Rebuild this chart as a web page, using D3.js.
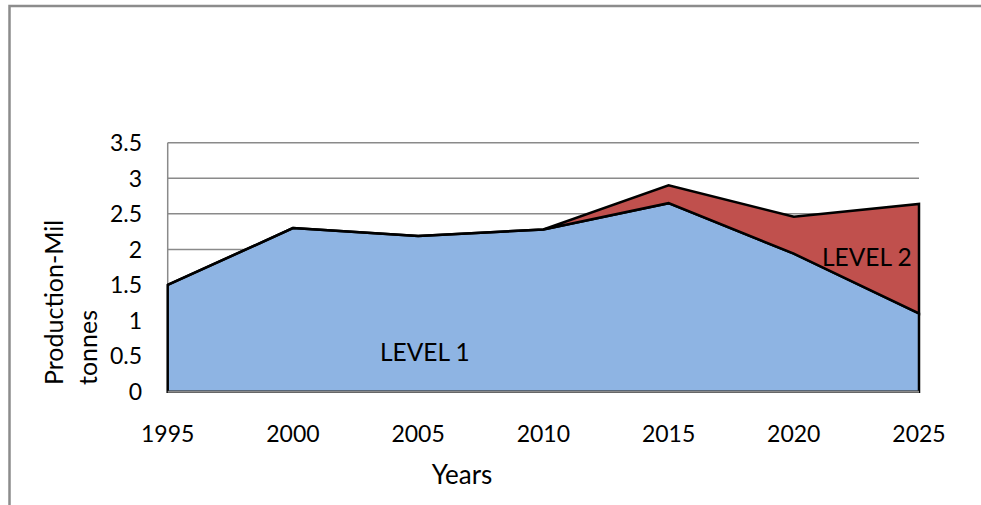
<!DOCTYPE html>
<html>
<head>
<meta charset="utf-8">
<script src="https://cdn.jsdelivr.net/npm/d3@7/dist/d3.min.js"></script>
<style>
  html, body { margin: 0; padding: 0; background: #fff; }
  svg { display: block; }
  text { font-family: Lato, "Open Sans", sans-serif; fill: #000; }
</style>
</head>
<body>
<svg id="chart" width="981" height="505"></svg>
<script>
// Production by level, million tonnes
const years = [1995, 2000, 2005, 2010, 2015, 2020, 2025];
const level1 = [1.50, 2.30, 2.19, 2.28, 2.65, 1.94, 1.10];
const level2 = [0.00, 0.00, 0.00, 0.00, 0.25, 0.52, 1.54];
const seriesNames = ["LEVEL 1", "LEVEL 2"];
const yTicks = [0, 0.5, 1, 1.5, 2, 2.5, 3, 3.5];
const yTickLabels = ["0", "0.5", "1", "1.5", "2", "2.5", "3", "3.5"];
const xTitle = "Years";
const yTitleLines = ["Production-Mil", "tonnes"];

const rows = years.map((yr, i) => ({ year: yr, "LEVEL 1": level1[i], "LEVEL 2": level2[i] }));

const svg = d3.select("#chart");
const plot = { left: 167.7, right: 919, top: 142.7, bottom: 391.7 };

const x = d3.scalePoint().domain(years).range([plot.left, plot.right]);
const y = d3.scaleLinear().domain([0, 3.5]).range([plot.bottom, plot.top]);

// outer chart frame
svg.append("path")
  .attr("d", `M9.5,505 L9.5,6 L981,6`)
  .attr("fill", "none")
  .attr("stroke", "#8c8c8c")
  .attr("stroke-width", 2.5);

// horizontal gridlines
svg.append("g")
  .selectAll("line")
  .data(yTicks.slice(1))
  .join("line")
  .attr("x1", plot.left).attr("x2", plot.right)
  .attr("y1", d => y(d)).attr("y2", d => y(d))
  .attr("stroke", "#8a8a8a")
  .attr("stroke-width", 1.5);

// value axis line
svg.append("line")
  .attr("x1", plot.left).attr("x2", plot.left)
  .attr("y1", plot.top).attr("y2", plot.bottom)
  .attr("stroke", "#8a8a8a")
  .attr("stroke-width", 1.5);

// stacked areas
const stack = d3.stack().keys(seriesNames);
const layers = stack(rows);
const colors = { "LEVEL 1": "#8eb4e3", "LEVEL 2": "#c0504d" };
const area = d3.area()
  .x(d => x(d.data.year))
  .y0(d => y(d[0]))
  .y1(d => y(d[1]));

svg.append("g")
  .selectAll("path")
  .data(layers)
  .join("path")
  .attr("d", area)
  .attr("fill", d => colors[d.key])
  .attr("stroke", "#000")
  .attr("stroke-width", 2.5)
  .attr("stroke-linejoin", "miter");

// category axis line
svg.append("line")
  .attr("x1", plot.left).attr("x2", plot.right)
  .attr("y1", plot.bottom).attr("y2", plot.bottom)
  .attr("stroke", "#8a8a8a")
  .attr("stroke-width", 2);

// y tick labels
svg.append("g")
  .selectAll("text")
  .data(yTicks)
  .join("text")
  .attr("x", 142)
  .attr("y", d => y(d))
  .attr("dy", "0.36em")
  .attr("text-anchor", "end")
  .style("font-size", "23px")
  .text((d, i) => yTickLabels[i]);

// x tick labels
svg.append("g")
  .selectAll("text")
  .data(years)
  .join("text")
  .attr("x", d => x(d))
  .attr("y", 442)
  .attr("text-anchor", "middle")
  .style("font-size", "23px")
  .text(d => d);

// axis titles
svg.append("text")
  .attr("x", 462)
  .attr("y", 484)
  .attr("text-anchor", "middle")
  .style("font-size", "26px")
  .text(xTitle);

const yt = svg.append("text")
  .attr("transform", "translate(63,385) rotate(-90)")
  .attr("text-anchor", "start")
  .style("font-size", "25px");
yt.append("tspan").attr("x", 0).attr("dy", 0).text(yTitleLines[0]);
yt.append("tspan").attr("x", 0).attr("dy", 34).text(yTitleLines[1]);

// series labels
svg.append("text")
  .attr("x", 380).attr("y", 361)
  .style("font-size", "24.5px")
  .text(seriesNames[0]);
svg.append("text")
  .attr("x", 822).attr("y", 266)
  .style("font-size", "24.5px")
  .text(seriesNames[1]);
</script>
</body>
</html>
